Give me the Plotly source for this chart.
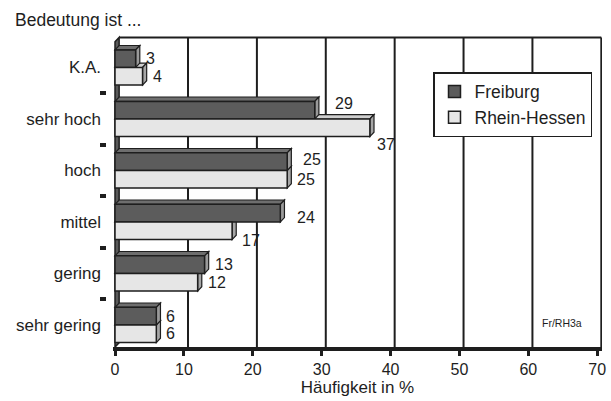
import plotly.graph_objects as go

# --- data -------------------------------------------------------------
categories = ["K.A.", "sehr hoch", "hoch", "mittel", "gering", "sehr gering"]
freiburg = [3, 29, 25, 24, 13, 6]
rhein_hessen = [4, 37, 25, 17, 12, 6]
x_ticks = [0, 10, 20, 30, 40, 50, 60, 70]

# --- styling ----------------------------------------------------------
FONT = "Liberation Sans, Arial, sans-serif"
INK = "#1e1e1e"
DARK_FRONT, DARK_TOP, DARK_SIDE = "#5c5c5c", "#6e6e6e", "#9a9a9a"
LIGHT_FRONT, LIGHT_TOP, LIGHT_SIDE = "#e6e6e6", "#cfcfcf", "#a6a6a6"

BAR_H = 0.342          # bar thickness in category units
DX, DY = 0.6, 0.085    # 3-D depth offset (x units, category units)
Y_RANGE = [5.43, -0.65]
X_RANGE = [-0.29, 70.7]
Y_TOP = -0.5

n = len(categories)
pos = list(range(n))
y_fr = [p - BAR_H / 2 for p in pos]
y_rh = [p + BAR_H / 2 for p in pos]

fig = go.Figure()

fig.add_trace(go.Bar(
    name="Freiburg", orientation="h", x=freiburg, y=y_fr, width=BAR_H,
    marker=dict(color=DARK_FRONT, line=dict(color=INK, width=1.5)),
    hoverinfo="skip",
))
fig.add_trace(go.Bar(
    name="Rhein-Hessen", orientation="h", x=rhein_hessen, y=y_rh, width=BAR_H,
    marker=dict(color=LIGHT_FRONT, line=dict(color=INK, width=1.5)),
    hoverinfo="skip",
))
# carrier trace for the boundary-tick axis
fig.add_trace(go.Scatter(x=[None], y=[None], yaxis="y2", showlegend=False,
                         hoverinfo="skip"))


def path(points):
    return "M " + " L ".join(f"{x},{y}" for x, y in points) + " Z"


shapes = []

# back wall: grid lines, top edge, right edge, left wall
y_back_top = Y_TOP - DY
y_back_bot = Y_RANGE[0] - DY
for t in x_ticks[1:-1]:
    shapes.append(dict(type="line", xref="x", yref="y", layer="below",
                       x0=t + DX, x1=t + DX, y0=y_back_top, y1=Y_RANGE[0],
                       line=dict(color=INK, width=2)))
shapes.append(dict(type="line", xref="x", yref="y", layer="below",
                   x0=DX, x1=x_ticks[-1] + DX, y0=y_back_top, y1=y_back_top,
                   line=dict(color=INK, width=2)))
shapes.append(dict(type="line", xref="x", yref="y", layer="below",
                   x0=x_ticks[-1] + DX, x1=x_ticks[-1] + DX,
                   y0=y_back_top, y1=Y_RANGE[0],
                   line=dict(color=INK, width=2)))
shapes.append(dict(type="path", xref="x", yref="y", layer="below",
                   path=path([(0, Y_TOP), (DX, y_back_top), (DX, y_back_bot),
                              (0, Y_RANGE[0])]),
                   fillcolor="#5a5a5a", line=dict(color=INK, width=1.5)))


def faces(v, yc, top_col, side_col):
    yt, yb = yc - BAR_H / 2, yc + BAR_H / 2
    top = path([(0, yt), (DX, yt - DY), (v + DX, yt - DY), (v, yt)])
    side = path([(v, yt), (v + DX, yt - DY), (v + DX, yb - DY), (v, yb)])
    return [
        dict(type="path", xref="x", yref="y", layer="between", path=top,
             fillcolor=top_col, line=dict(color=INK, width=1.2)),
        dict(type="path", xref="x", yref="y", layer="between", path=side,
             fillcolor=side_col, line=dict(color=INK, width=1.2)),
    ]


# lower (light) bar faces first so the darker bar sits in front of them
for v, yc in zip(rhein_hessen, y_rh):
    shapes += faces(v, yc, LIGHT_TOP, LIGHT_SIDE)
for v, yc in zip(freiburg, y_fr):
    shapes += faces(v, yc, DARK_TOP, DARK_SIDE)

# value labels next to each bar (pixel nudges for a few crowded labels)
nudge_fr = {1: (10, -7), 2: (6, -2), 3: (7, 4)}
nudge_rh = {1: (-3, 17), 3: (0, 10)}
annotations = []
for series, ys, nudges in ((freiburg, y_fr, nudge_fr), (rhein_hessen, y_rh, nudge_rh)):
    for i, (v, yc) in enumerate(zip(series, ys)):
        dx, dy = nudges.get(i, (0, 0))
        annotations.append(dict(
            x=v + DX, y=yc, xref="x", yref="y", text=str(v), showarrow=False,
            xanchor="left", yanchor="middle", xshift=4 + dx, yshift=-dy,
            font=dict(family=FONT, size=16, color=INK),
        ))

annotations.append(dict(
    x=13 / 611, y=0.95, xref="paper", yref="paper", text="Bedeutung ist ...",
    showarrow=False, xanchor="left", yanchor="middle",
    font=dict(family=FONT, size=17.5, color=INK),
))
annotations.append(dict(
    x=0.92, y=0.195, xref="paper", yref="paper", text="Fr/RH3a",
    showarrow=False, xanchor="center", yanchor="middle",
    font=dict(family=FONT, size=10.5, color=INK),
))

y_dom = [(401 - 347.1) / 401, (401 - (67.5 + 51.5 * Y_RANGE[1])) / 401]

fig.update_layout(
    width=611, height=401,
    margin=dict(l=0, r=0, t=0, b=0, autoexpand=False),
    paper_bgcolor="white", plot_bgcolor="white",
    barmode="overlay",
    font=dict(family=FONT, color=INK),
    showlegend=True,
    legend=dict(
        x=433 / 611, y=(401 - 72) / 401, xanchor="left", yanchor="top",
        bgcolor="white", bordercolor=INK, borderwidth=1.5,
        font=dict(family=FONT, size=17.5, color=INK),
        traceorder="normal",
    ),
    xaxis=dict(
        domain=[113 / 611, 602 / 611], range=X_RANGE,
        tickvals=x_ticks, ticks="outside", ticklen=5, tickwidth=2.5,
        tickcolor=INK, showgrid=False, zeroline=False,
        showline=True, linewidth=4, linecolor=INK,
        tickfont=dict(family=FONT, size=16, color=INK),
        title=dict(text="Häufigkeit in %", standoff=3,
                   font=dict(family=FONT, size=17, color=INK)),
        anchor="y", automargin=False, fixedrange=True,
    ),
    yaxis=dict(
        domain=y_dom, range=Y_RANGE, tickvals=pos, ticktext=categories,
        ticks="", showgrid=False, zeroline=False, showline=False,
        ticklabelstandoff=11,
        tickfont=dict(family=FONT, size=17, color=INK),
        automargin=False, fixedrange=True,
    ),
    yaxis2=dict(
        overlaying="y", anchor="free", position=106 / 611, side="left",
        range=Y_RANGE, tickvals=[p + 0.5 for p in pos[:-1]],
        ticks="outside", ticklen=6, tickwidth=3.5, tickcolor=INK,
        showticklabels=False, showgrid=False, zeroline=False, showline=False,
        automargin=False, fixedrange=True,
    ),
    shapes=shapes,
    annotations=annotations,
)

fig.write_html("out.html", config={"displayModeBar": False})
